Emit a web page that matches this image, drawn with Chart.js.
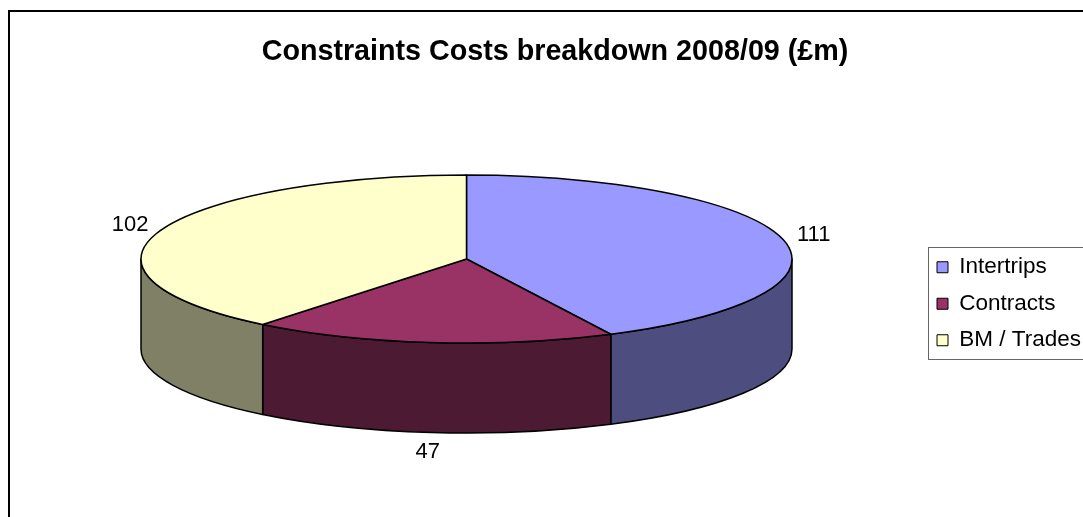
<!DOCTYPE html>
<html lang="en">
<head>
<meta charset="UTF-8" />
<title>Constraints Costs breakdown 2008/09</title>
<script src="https://cdn.jsdelivr.net/npm/chart.js"></script>
<style>
  body { margin: 0; background: #fff; }
  #wrap { width: 1083px; height: 517px; }
</style>
</head>
<body>
<div id="wrap"><canvas id="chart" width="1083" height="517"></canvas></div>
<script>
const categories = ["Intertrips", "Contracts", "BM / Trades"];
const costs = [111, 47, 102];
const topColours = ["#9999ff", "#993366", "#ffffcc"];
const sideColours = ["#4d4d80", "#4d1a33", "#808066"];

const FONT = "'Liberation Sans', Arial, Helvetica, sans-serif";
const TILT = 0.258; // top face height / width
const DEPTH = 90;   // wall height in px

// draws the pie as a flat 3D disc, using the arcs chart.js laid out
const pie3d = {
  id: "pie3d",
  afterLayout(chart) {
    // a large round area; the squash happens when drawing
    const cx = 466.5, cy = 259, r = 326;
    chart.chartArea = {
      left: cx - r, right: cx + r, top: cy - r, bottom: cy + r,
      width: 2 * r, height: 2 * r
    };
    // legend box sits right of the pie, runs off the edge
    const lg = chart.legend;
    lg.left = 923; lg.right = 1200;
    lg.top = 242; lg.bottom = 372;
    lg.width = lg.right - lg.left; lg.height = lg.bottom - lg.top;
  },
  beforeDatasetsDraw(chart) {
    const ctx = chart.ctx;
    const arcs = chart.getDatasetMeta(0).data;
    const values = chart.data.datasets[0].data;
    const props = arcs.map(a => a.getProps(["x", "y", "startAngle", "endAngle", "outerRadius"], true));

    ctx.save();
    ctx.lineWidth = 1.5;
    ctx.strokeStyle = "#000";
    ctx.lineJoin = "round";

    // walls - only the front half of the rim shows
    props.forEach((p, i) => {
      const rx = p.outerRadius, ry = rx * TILT;
      for (const k of [-2 * Math.PI, 0, 2 * Math.PI]) {
        const a = Math.max(p.startAngle, k), b = Math.min(p.endAngle, k + Math.PI);
        if (b <= a) continue;
        ctx.beginPath();
        ctx.ellipse(p.x, p.y, rx, ry, 0, a, b);
        ctx.lineTo(p.x + rx * Math.cos(b), p.y + ry * Math.sin(b) + DEPTH);
        ctx.ellipse(p.x, p.y + DEPTH, rx, ry, 0, b, a, true);
        ctx.closePath();
        ctx.fillStyle = sideColours[i];
        ctx.fill();
        ctx.stroke();
      }
    });

    // top faces
    props.forEach((p, i) => {
      const rx = p.outerRadius, ry = rx * TILT;
      ctx.beginPath();
      ctx.moveTo(p.x, p.y);
      ctx.ellipse(p.x, p.y, rx, ry, 0, p.startAngle, p.endAngle);
      ctx.closePath();
      ctx.fillStyle = topColours[i];
      ctx.fill();
      ctx.stroke();
    });

    // value labels outside the rim
    ctx.font = "22px " + FONT;
    ctx.fillStyle = "#000";
    ctx.textAlign = "center";
    ctx.textBaseline = "middle";
    props.forEach((p, i) => {
      const rx = p.outerRadius, ry = rx * TILT;
      const mid = (p.startAngle + p.endAngle) / 2;
      const lx = p.x + (rx + 31) * Math.cos(mid);
      let ly = p.y + (ry + 20) * Math.sin(mid);
      if (Math.sin(mid) > 0) ly += DEPTH;
      ctx.fillText(String(values[i]), lx, ly);
    });

    ctx.restore();
    return false;
  },
  afterDraw(chart) {
    const ctx = chart.ctx;
    ctx.save();
    // outer frame (cut off at the right and bottom)
    ctx.strokeStyle = "#000";
    ctx.lineWidth = 2;
    ctx.beginPath();
    ctx.moveTo(9, 600);
    ctx.lineTo(9, 11);
    ctx.lineTo(1200, 11);
    ctx.stroke();
    // legend border
    ctx.strokeStyle = "#666";
    ctx.lineWidth = 1;
    ctx.strokeRect(928.5, 247.5, 300, 112);
    ctx.restore();
  }
};

new Chart(document.getElementById("chart"), {
  type: "pie",
  data: {
    labels: categories,
    datasets: [{
      data: costs,
      backgroundColor: topColours,
      borderColor: "#000",
      borderWidth: 1
    }]
  },
  options: {
    responsive: false,
    animation: false,
    events: [],
    layout: { padding: { left: 27 } },
    plugins: {
      title: {
        display: true,
        text: "Constraints Costs breakdown 2008/09 (£m)",
        color: "#000",
        font: { family: FONT, size: 28.7, weight: "bold" },
        padding: { top: 35, bottom: 0 }
      },
      legend: {
        position: "right",
        align: "start",
        labels: {
          color: "#000",
          font: { family: FONT, size: 22.5 },
          boxWidth: 11,
          boxHeight: 11,
          padding: 14
        }
      },
      tooltip: { enabled: false }
    }
  },
  plugins: [pie3d]
});
</script>
</body>
</html>
